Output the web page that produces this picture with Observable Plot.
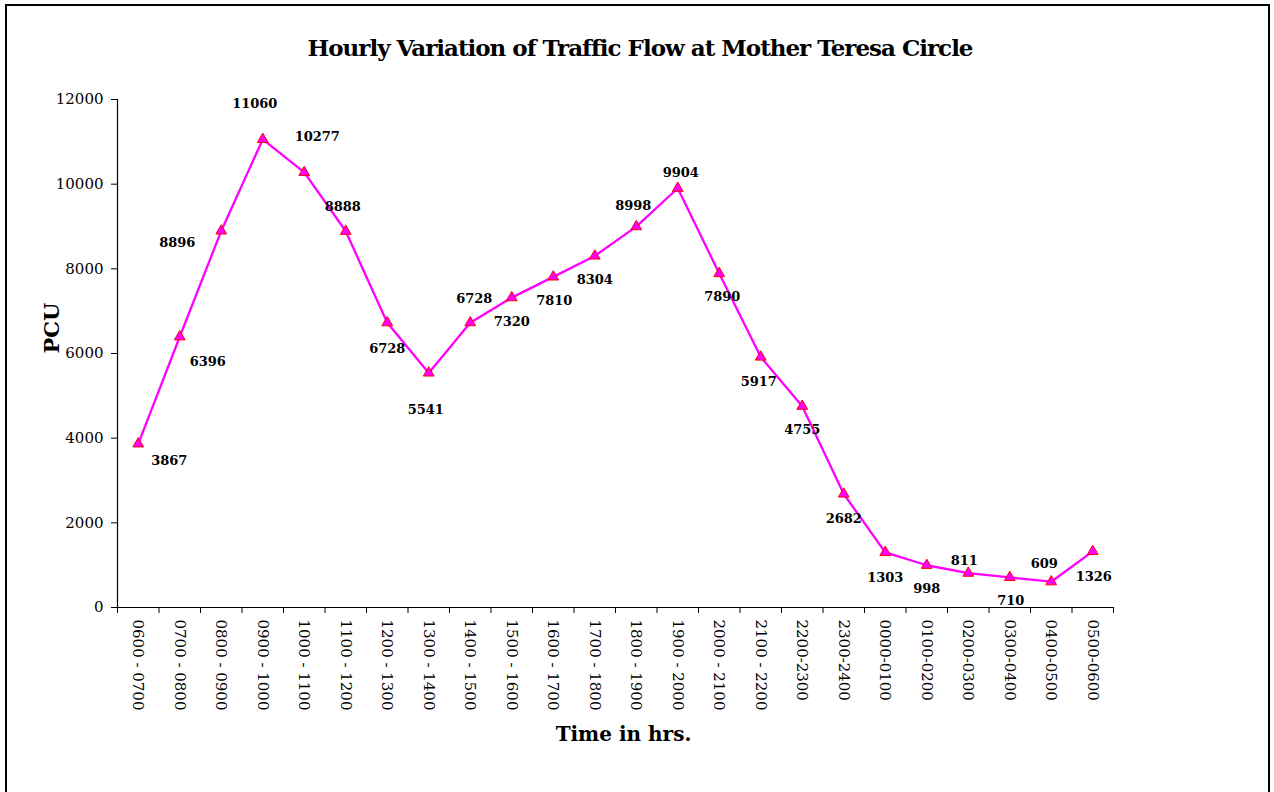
<!DOCTYPE html>
<html>
<head>
<meta charset="utf-8">
<script src="https://cdn.jsdelivr.net/npm/d3@7"></script>
<script src="https://cdn.jsdelivr.net/npm/@observablehq/plot@0.6"></script>
<style>
  html, body { margin: 0; padding: 0; background: #fff; overflow: hidden; }
  #wrap { position: relative; width: 1274px; height: 792px; }
  #frame { position: absolute; left: 5px; top: 4px; width: 1265px; height: 800px; border: 2px solid #000; box-sizing: border-box; }
  #title { position: absolute; left: 0; top: 34px; width: 1280px; text-align: center; font-family: "DejaVu Serif", serif; font-weight: bold; font-size: 23px; letter-spacing: -1px; }
  #chart { position: absolute; left: 0; top: 0; }
</style>
</head>
<body>
<div id="wrap">
  <div id="frame"></div>
  <div id="title">Hourly Variation of Traffic Flow at Mother Teresa Circle</div>
  <div id="chart"></div>
</div>
<script>
const timeLabels = ["0600 - 0700","0700 - 0800","0800 - 0900","0900 - 1000","1000 - 1100","1100 - 1200","1200 - 1300","1300 - 1400","1400 - 1500","1500 - 1600","1600 - 1700","1700 - 1800","1800 - 1900","1900 - 2000","2000 - 2100","2100 - 2200","2200-2300","2300-2400","0000-0100","0100-0200","0200-0300","0300-0400","0400-0500","0500-0600"];
const pcu = [3867,6396,8896,11060,10277,8888,6728,5541,6728,7320,7810,8304,8998,9904,7890,5917,4755,2682,1303,998,811,710,609,1326];
const yTicks = [0,2000,4000,6000,8000,10000,12000];
// label offsets (px) relative to each point, as placed in the original
const labelDx = [31,28,-44,-8,13,-3,0,-3,4,0,1,0,-3,3,3,-2,0,0,0,0,-4,1,-7,1];
const labelDy = [17,25,12,-35,-36,-24,26,37,-24,24,24,24,-21,-15,23,25,24,25,25,24,-12,23,-18,25];

const rows = pcu.map((v, i) => ({pos: i + 0.5, label: timeLabels[i], value: v}));

const labelMarks = rows.map((r, i) => Plot.text([r], {
  x: "pos", y: "value", text: d => String(d.value),
  dx: labelDx[i], dy: labelDy[i], fontWeight: "bold", fontSize: 13, fill: "#000"
}));

const chart = Plot.plot({
  width: 1274, height: 792,
  marginLeft: 117, marginRight: 161, marginTop: 99, marginBottom: 185,
  x: {type: "linear", domain: [0, 24]},
  y: {domain: [0, 12000]},
  style: {fontFamily: "DejaVu Serif", background: "transparent", color: "#000"},
  marks: [
    Plot.axisY({ticks: yTicks, tickSize: 6, tickPadding: 8, tickFormat: d => String(d), fontSize: 15, label: null}),
    Plot.axisX({ticks: d3.range(0, 25), tickSize: 6, tickFormat: () => "", label: null}),
    Plot.axisX({ticks: rows.map(r => r.pos), tickSize: 0, tickPadding: 12, tickRotate: 90,
      tickFormat: d => timeLabels[Math.round(d - 0.5)], fontSize: 15, label: null}),
    Plot.ruleY([0], {stroke: "#000", strokeWidth: 1.2}),
    Plot.ruleX([0], {stroke: "#000", strokeWidth: 1.2}),
    Plot.line(rows, {x: "pos", y: "value", stroke: "#FF00FF", strokeWidth: 2.3}),
    Plot.dot(rows, {x: "pos", y: "value", symbol: "triangle", r: 4, fill: "#FF00FF", stroke: "#FF0000", strokeWidth: 1}),
    ...labelMarks,
    Plot.text(["PCU"], {frameAnchor: "left", dx: -65, rotate: -90, fontWeight: "bold", fontSize: 21, text: d => d}),
    Plot.text(["Time in hrs."], {frameAnchor: "bottom", dx: 8, dy: 133, fontWeight: "bold", fontSize: 20, text: d => d})
  ]
});
document.getElementById("chart").appendChild(chart);
</script>
</body>
</html>
